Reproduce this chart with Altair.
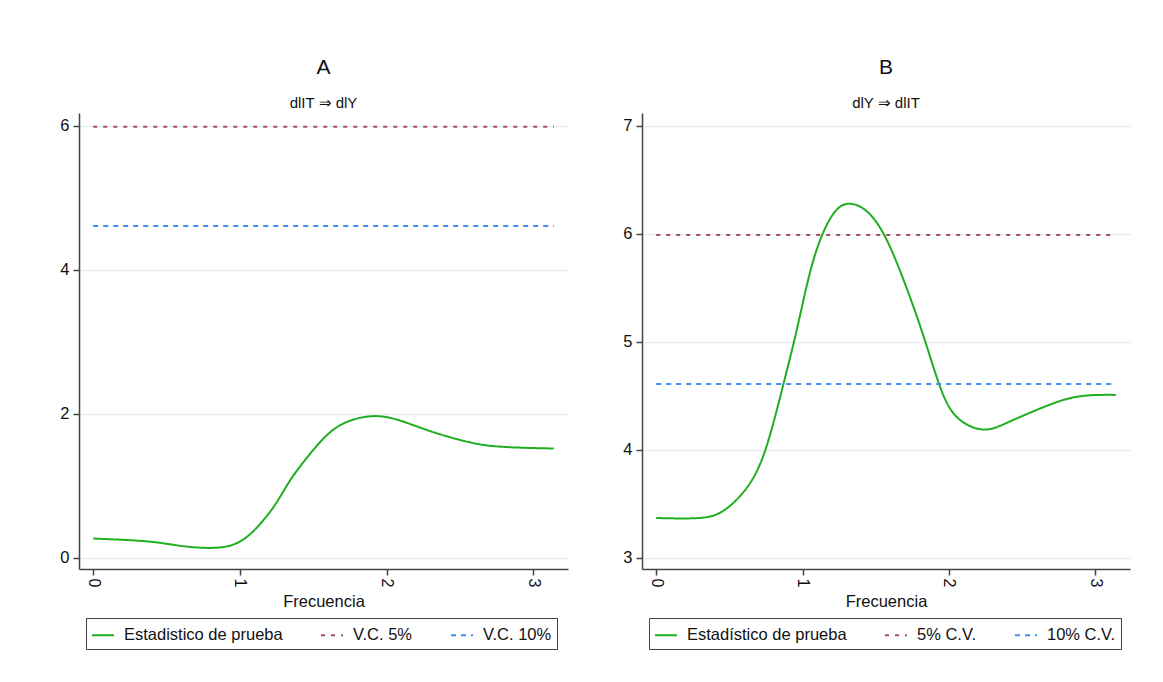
import altair as alt
import pandas as pd

# ---- data ----
freq_a = [0.0, 0.37, 0.59, 0.80, 0.96, 1.09, 1.23, 1.34, 1.46, 1.59, 1.73, 1.91, 2.09, 2.30, 2.52, 2.75, 3.14]
stat_a = [0.27, 0.23, 0.17, 0.14, 0.19, 0.37, 0.71, 1.07, 1.40, 1.70, 1.89, 1.97, 1.91, 1.76, 1.63, 1.55, 1.52]

freq_b = [0.0, 0.29, 0.45, 0.59, 0.73, 0.86, 0.96, 1.05, 1.14, 1.23, 1.32, 1.43, 1.55, 1.68, 1.82, 1.93, 2.05, 2.23, 2.41, 2.69, 2.91, 3.14]
stat_b = [3.37, 3.37, 3.43, 3.60, 3.94, 4.56, 5.11, 5.64, 6.01, 6.22, 6.28, 6.22, 6.01, 5.61, 5.08, 4.62, 4.31, 4.19, 4.26, 4.42, 4.50, 4.51]

cv_freq = [0.0, 3.1416]
cv5 = 5.99
cv10 = 4.61

names_a = ["Estadistico de prueba", "V.C. 5%", "V.C. 10%"]
names_b = ["Estadístico de prueba", "5% C.V.", "10% C.V."]

yticks_a = [0, 2, 4, 6]
yticks_b = [3, 4, 5, 6, 7]
xticks = [0, 1, 2, 3]

GREEN = "#1fae1f"
RED = "#a3525c"
BLUE = "#3d8ef0"
FONT = "Liberation Sans"


def panel(freq, stat, names, ydom, yticks, title, subtitle, width):
    rows = []
    for f, s in zip(freq, stat):
        rows.append({"serie": names[0], "f": f, "v": s})
    for f in cv_freq:
        rows.append({"serie": names[1], "f": f, "v": cv5})
    for f in cv_freq:
        rows.append({"serie": names[2], "f": f, "v": cv10})
    df = pd.DataFrame(rows)

    leg = alt.Legend(
        title=None, orient="none", legendX=7, legendY=505, direction="horizontal",
        strokeColor="#444", padding=5, symbolType="stroke", symbolSize=484,
        symbolStrokeWidth=2, labelFontSize=16.5, labelFont=FONT, labelColor="#111",
        columnPadding=34, labelOffset=9, cornerRadius=0,
    )
    color = alt.Color("serie:N", sort=names,
                      scale=alt.Scale(domain=names, range=[GREEN, RED, BLUE]), legend=leg)
    dash = alt.StrokeDash("serie:N", sort=names,
                          scale=alt.Scale(domain=names, range=[[1, 0], [4, 6], [5, 5]]), legend=leg)

    return alt.Chart(df).mark_line(strokeWidth=2, interpolate="natural").encode(
        x=alt.X("f:Q", scale=alt.Scale(domain=[-0.097, 3.237], nice=False, zero=False),
                axis=alt.Axis(values=xticks, labelAngle=90, grid=False, tickSize=6,
                              title="Frecuencia", titleFontSize=16.5, titleFontWeight="normal",
                              titleFont=FONT, labelFont=FONT, labelFontSize=16,
                              titlePadding=7, labelPadding=3, titleColor="#111")),
        y=alt.Y("v:Q", scale=alt.Scale(domain=ydom, nice=False, zero=False),
                axis=alt.Axis(values=yticks, grid=True, tickSize=6, title=None,
                              labelFont=FONT, labelFontSize=16.5, labelPadding=4,
                              minExtent=30, maxExtent=30)),
        color=color,
        strokeDash=dash,
        order=alt.Order("f:Q"),
    ).properties(
        width=width, height=456,
        title=alt.TitleParams(text=title, subtitle=subtitle, fontSize=21, fontWeight="normal",
                              font=FONT, subtitleFont=FONT, subtitleFontSize=15,
                              subtitleColor="#111", color="#111", anchor="middle",
                              subtitlePadding=18, offset=2),
    )


pa = panel(freq_a, stat_a, names_a, [-0.153, 6.18], yticks_a, "A", "dlIT ⇒ dlY", 489)
pb = panel(freq_b, stat_b, names_b, [2.898, 7.12], yticks_b, "B", "dlY ⇒ dlIT", 488)

chart = alt.hconcat(pa, pb, spacing=44).resolve_scale(
    color="independent", strokeDash="independent", x="independent", y="independent"
).properties(
    padding={"left": 49, "top": 57, "right": 10, "bottom": 10},
    background="white",
).configure_view(stroke=None).configure_axis(
    domainColor="#444", domainWidth=1.5, tickColor="#444", tickWidth=1.5,
    gridColor="#e8eff0", gridWidth=1.5, labelColor="#111",
)

chart.save("out.html", embed_options={"renderer": "svg", "actions": False})
